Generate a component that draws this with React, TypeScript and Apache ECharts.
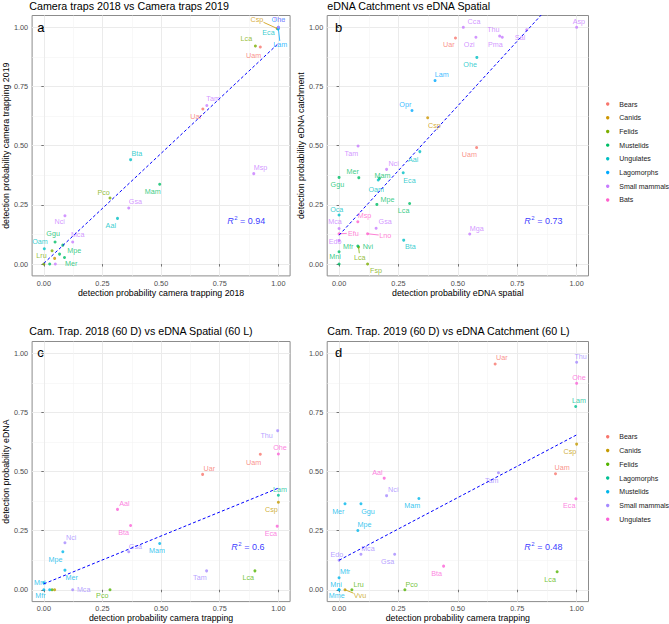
import React, { useEffect, useRef } from "react";
import * as echarts from "echarts";

type Pt = [string, string, number, number];

const FONT = "'Liberation Sans', Arial, Helvetica, sans-serif";

// ---------- categories & palettes ----------
const GROUPS_AB = ["Bears", "Canids", "Felids", "Mustelids", "Ungulates", "Lagomorphs", "Small mammals", "Bats"];
const COLORS_AB = ["#F8766D", "#CD9600", "#7CAE00", "#00BE67", "#00BFC4", "#00A9FF", "#C77CFF", "#FF61CC"];
const GROUPS_CD = ["Bears", "Canids", "Felids", "Lagomorphs", "Mustelids", "Small mammals", "Ungulates"];
const COLORS_CD = ["#F8766D", "#C49A00", "#53B400", "#00C094", "#00B6EB", "#A58AFF", "#FB61D7"];

// ---------- tick labels ----------
const TICKS = [0, 0.25, 0.5, 0.75, 1];
const MINOR_TICKS = [0.125, 0.375, 0.625, 0.875];

// ---------- texts ----------
const TITLES = [
  "Camera traps 2018 vs Camera traps 2019",
  "eDNA Catchment vs eDNA Spatial",
  "Cam. Trap. 2018 (60 D) vs eDNA Spatial (60 L)",
  "Cam. Trap. 2019 (60 D) vs eDNA Catchment (60 L)",
];
const X_NAMES = [
  "detection probability camera trapping 2018",
  "detection probability eDNA spatial",
  "detection probability camera trapping",
  "detection probability camera trapping",
];
const Y_NAMES = [
  "detection probability camera trapping 2019",
  "detection probability eDNA catchment",
  "detection probability eDNA",
  "",
];
const LETTERS = ["a", "b", "c", "d"];
const R2_VALUES = ["0.94", "0.73", "0.6", "0.48"];

// ---------- data: [species, group, x, y] ----------
const POINTS_A: Pt[] = [
  ["Ohe", "Lagomorphs", 1.0, 1.0],
  ["Thu", "Small mammals", 1.0, 1.0],
  ["Csp", "Canids", 0.995, 0.995],
  ["Eca", "Ungulates", 0.998, 0.993],
  ["Lam", "Lagomorphs", 1.0, 0.995],
  ["Lca", "Felids", 0.902, 0.921],
  ["Uam", "Bears", 0.923, 0.917],
  ["Tam", "Small mammals", 0.695, 0.67],
  ["Uar", "Bears", 0.678, 0.655],
  ["Bta", "Ungulates", 0.37, 0.441],
  ["Msp", "Small mammals", 0.895, 0.382],
  ["Mam", "Mustelids", 0.494, 0.337],
  ["Pco", "Felids", 0.282, 0.279],
  ["Gsa", "Small mammals", 0.362, 0.237],
  ["Aal", "Ungulates", 0.314, 0.193],
  ["Nci", "Small mammals", 0.09, 0.204],
  ["Ggu", "Mustelids", 0.048, 0.093],
  ["Oam", "Ungulates", 0.002, 0.065],
  ["Mca", "Small mammals", 0.123, 0.093],
  ["Mpe", "Mustelids", 0.081, 0.08],
  ["Lru", "Felids", 0.0, 0.0],
  ["Mer", "Mustelids", 0.088, 0.028],
  ["", "Felids", 0.035, 0.056],
  ["", "Canids", 0.046, 0.024],
  ["", "Small mammals", 0.049, 0.0],
  ["", "Mustelids", 0.025, 0.0],
  ["", "Mustelids", 0.067, 0.042],
];
const FIT_A = [[0, 0.003], [1, 0.932]];

const POINTS_B: Pt[] = [
  ["Cca", "Small mammals", 0.523, 1.0],
  ["Uar", "Bears", 0.49, 0.955],
  ["Ozi", "Small mammals", 0.576, 0.958],
  ["Thu", "Small mammals", 0.676, 0.963],
  ["Pma", "Small mammals", 0.687, 0.958],
  ["Sal", "Small mammals", 0.79, 0.99],
  ["Asp", "Small mammals", 1.0, 1.0],
  ["Ohe", "Ungulates", 0.58, 0.873],
  ["Lam", "Lagomorphs", 0.404, 0.775],
  ["Opr", "Lagomorphs", 0.307, 0.649],
  ["Csp", "Canids", 0.373, 0.618],
  ["Tam", "Small mammals", 0.08, 0.499],
  ["Uam", "Bears", 0.579, 0.492],
  ["Aal", "Ungulates", 0.34, 0.475],
  ["Nci", "Small mammals", 0.2, 0.4],
  ["Mer", "Mustelids", 0.083, 0.365],
  ["Ggu", "Mustelids", 0.0, 0.366],
  ["Mam", "Mustelids", 0.17, 0.362],
  ["Oam", "Ungulates", 0.165, 0.355],
  ["Eca", "Ungulates", 0.27, 0.386],
  ["Mpe", "Mustelids", 0.159, 0.252],
  ["Lca", "Mustelids", 0.297, 0.256],
  ["Oca", "Ungulates", 0.0, 0.207],
  ["Msp", "Bats", 0.079, 0.179],
  ["Gsa", "Small mammals", 0.156, 0.151],
  ["Mca", "Small mammals", 0.0, 0.15],
  ["Efu", "Bats", 0.0, 0.128],
  ["Lno", "Bats", 0.12, 0.128],
  ["Edo", "Small mammals", 0.0, 0.1],
  ["Mga", "Small mammals", 0.55, 0.127],
  ["Bta", "Ungulates", 0.272, 0.101],
  ["Nvi", "Mustelids", 0.079, 0.076],
  ["Lca", "Felids", 0.082, 0.072],
  ["Mfr", "Mustelids", 0.0, 0.052],
  ["Mni", "Mustelids", 0.0, 0.0],
  ["Fsp", "Felids", 0.12, 0.0],
];
const FIT_B = [[0, 0.122], [1, 1.215]];

const POINTS_C: Pt[] = [
  ["Thu", "Small mammals", 0.997, 0.673],
  ["Ohe", "Ungulates", 1.0, 0.574],
  ["Uam", "Bears", 0.923, 0.573],
  ["Uar", "Bears", 0.677, 0.488],
  ["Lam", "Lagomorphs", 1.0, 0.4],
  ["Csp", "Canids", 1.0, 0.37],
  ["Eca", "Ungulates", 0.995, 0.269],
  ["Aal", "Ungulates", 0.314, 0.34],
  ["Bta", "Ungulates", 0.37, 0.272],
  ["Gsa", "Small mammals", 0.362, 0.161],
  ["Mam", "Mustelids", 0.494, 0.196],
  ["Tam", "Small mammals", 0.694, 0.08],
  ["Lca", "Felids", 0.9, 0.08],
  ["Nci", "Small mammals", 0.09, 0.199],
  ["Mpe", "Mustelids", 0.081, 0.161],
  ["Mer", "Mustelids", 0.09, 0.083],
  ["Mni", "Mustelids", 0.0, 0.03],
  ["Mfr", "Mustelids", 0.0, 0.0],
  ["", "Mustelids", 0.025, 0.0],
  ["", "Felids", 0.035, 0.0],
  ["", "Canids", 0.046, 0.0],
  ["Mca", "Small mammals", 0.123, 0.0],
  ["Pco", "Felids", 0.282, 0.0],
];
const FIT_C = [[0, 0.025], [1, 0.43]];

const POINTS_D: Pt[] = [
  ["Uar", "Bears", 0.657, 0.955],
  ["Thu", "Small mammals", 1.0, 0.962],
  ["Ohe", "Ungulates", 1.0, 0.873],
  ["Lam", "Lagomorphs", 0.996, 0.775],
  ["Csp", "Canids", 1.0, 0.616],
  ["Uam", "Bears", 0.911, 0.491],
  ["Tam", "Small mammals", 0.671, 0.495],
  ["Eca", "Ungulates", 0.997, 0.385],
  ["Aal", "Ungulates", 0.19, 0.472],
  ["Nci", "Small mammals", 0.2, 0.398],
  ["Mam", "Mustelids", 0.336, 0.386],
  ["Mer", "Mustelids", 0.025, 0.364],
  ["Ggu", "Mustelids", 0.092, 0.364],
  ["Mpe", "Mustelids", 0.079, 0.251],
  ["Edo", "Small mammals", 0.0, 0.125],
  ["Mca", "Small mammals", 0.092, 0.15],
  ["Gsa", "Small mammals", 0.234, 0.15],
  ["Bta", "Ungulates", 0.44, 0.1],
  ["Lca", "Felids", 0.918, 0.076],
  ["Mfr", "Mustelids", 0.0, 0.051],
  ["Mni", "Mustelids", 0.0, 0.0],
  ["Mme", "Mustelids", 0.0, 0.0],
  ["Lru", "Felids", 0.054, 0.0],
  ["Vvu", "Canids", 0.025, 0.0],
  ["Pco", "Felids", 0.277, 0.0],
];
const FIT_D = [[0, 0.125], [1, 0.655]];

// ---------- layout (pixels) ----------
const GRIDS = [
  { left: 28.8, top: 15.5, width: 261.3, height: 260.4 },
  { left: 327.2, top: 15.5, width: 261.3, height: 260.4 },
  { left: 28.8, top: 341.5, width: 261.3, height: 260.1 },
  { left: 327.2, top: 341.5, width: 261.3, height: 260.1 },
];
const TITLE_POS = [[29.3, 5.6], [327.3, 5.6], [29.3, 331.2], [327.3, 331.2]];
const LETTER_POS = [[37.3, 27.2], [335, 27.2], [37.3, 352.3], [335, 352.8]];
const R2_POS = [[0.863, 0.183], [0.86, 0.183], [0.87, 0.182], [0.86, 0.182]];
const LEGEND_POS = [
  { x: 607.7, y: 104, step: 13.71 },
  { x: 607.7, y: 436.8, step: 13.75 },
];

// label offsets (px) relative to the point, keyed by "name" or "name/group"
const OFFS_A: Record<string, number[]> = {
  Ohe: [0, -8], Thu: [0.6, -8.2], Csp: [-20.3, -9.2], Eca: [-9.4, 3.8], Lam: [1.8, 16.2],
  Lca: [-9, -7.3], Uam: [-6.7, 9], Tam: [6.3, -6.7], Uar: [-6.7, 7], Bta: [6.3, -5.7],
  Msp: [6.7, -6], Mam: [-7, 7.7], Pco: [-6.3, -6], Gsa: [6.7, -6], Aal: [-6.7, 7.3],
  Nci: [-5.3, 6], Ggu: [-2, -9], Oam: [-4.3, -7], Mca: [5, -7.3], Mpe: [11.3, 5.7],
  Lru: [-2.4, -9], Mer: [6.7, 6],
};
const OFFS_B: Record<string, number[]> = {
  Cca: [10.7, -6], Uar: [-6.7, 6.7], Ozi: [-6.7, 7], Thu: [-6.3, -6.7], Pma: [-7, 7],
  Sal: [-6.7, 7.3], Asp: [2.3, -6], Ohe: [-6.7, 6.7], Lam: [6.7, -5.7], Opr: [-6.7, -6],
  Csp: [6.7, 7.3], Tam: [-6.7, 8], Uam: [-7.3, 7.3], Aal: [-6.7, 7.7], Nci: [7, -6],
  Mer: [-6, -6], Ggu: [-1.7, 7.3], Mam: [3, -3], Oam: [-2, 9.5], Eca: [6.3, 7.7],
  Mpe: [10.7, -4.7], "Lca/Mustelids": [-6, 7.3], Oca: [-2.3, -6], Msp: [6.7, -5.7],
  Gsa: [9, -6.7], Mca: [-4, -6.8], Efu: [14.3, -0.7], Lno: [17.7, 2], Edo: [-4, 0.7],
  Mga: [7, -5.7], Bta: [6.7, 6.7], Nvi: [10, 0], "Lca/Felids": [1.2, 10], Mfr: [9.2, -5.7],
  Mni: [-4, -7.3], Fsp: [8.4, 6],
};
const OFFS_C: Record<string, number[]> = {
  Thu: [-11, 5.3], Ohe: [1.7, -6.3], Uam: [-6.7, 8], Uar: [6.7, -6], Lam: [1.7, -5.7],
  Csp: [-7, 7.7], Eca: [-6.3, 7.3], Aal: [7, -6], Bta: [-7, 7], Gsa: [6.7, -5.7],
  Mam: [-2.7, 7.3], Tam: [-6.7, 7], Lca: [-6.7, 7], Nci: [6.3, -5.3], Mpe: [-7.3, 7.7],
  Mer: [6.7, 7.3], Mni: [-4, 0], Mfr: [-3.3, 5.3], Mca: [11, 0], Pco: [-7.7, 5.3],
};
const OFFS_D: Record<string, number[]> = {
  Uar: [6.7, -6.3], Thu: [4, -6.3], Ohe: [2.3, -6], Lam: [3.3, -5.7], Csp: [-6.7, 7],
  Uam: [6.7, -6.3], Tam: [-6.7, 7.3], Eca: [-6.7, 7], Aal: [-6.7, -6], Nci: [6.7, -6.3],
  Mam: [-6.7, 7], Mer: [-6.7, 7.3], Ggu: [7, 7.3], Mpe: [6.7, -6], Edo: [-2.3, -6],
  Mca: [7, -6], Gsa: [-7, 7.3], Bta: [-7, 7.7], Lca: [-7, 7.3], Mfr: [6, -6],
  Mni: [-3, -5.3], Mme: [-2.3, 5.3], Lru: [6.7, -5.7], Vvu: [15, 6], Pco: [6.7, -5.7],
};
const CONNECT = [["Csp", "Lam"], ["Efu", "Lno", "Lca/Felids"], [], ["Vvu"]];

const PANELS = [
  { points: POINTS_A, fit: FIT_A, offs: OFFS_A, groups: GROUPS_AB, colors: COLORS_AB },
  { points: POINTS_B, fit: FIT_B, offs: OFFS_B, groups: GROUPS_AB, colors: COLORS_AB },
  { points: POINTS_C, fit: FIT_C, offs: OFFS_C, groups: GROUPS_CD, colors: COLORS_CD },
  { points: POINTS_D, fit: FIT_D, offs: OFFS_D, groups: GROUPS_CD, colors: COLORS_CD },
];

const offFor = (offs: Record<string, number[]>, p: Pt) =>
  offs[`${p[0]}/${p[1]}`] || offs[p[0]] || [0, 0];

function buildOption() {
  const grid: any[] = [];
  const xAxis: any[] = [];
  const yAxis: any[] = [];
  const series: any[] = [];
  const graphic: any[] = [];

  GRIDS.forEach((g, i) => {
    grid.push({
      ...g,
      show: true,
      backgroundColor: "#ffffff",
      borderColor: "#8c8c8c",
      borderWidth: 1,
    });
    const common = {
      type: "value",
      gridIndex: i,
      min: -0.05,
      max: 1.05,
      axisLine: { show: false },
    };
    xAxis.push({
      ...common,
      position: "bottom",
      name: X_NAMES[i],
      nameLocation: "middle",
      nameGap: 12.3,
      nameTextStyle: { fontSize: 8.8, color: "#000", fontFamily: FONT },
      axisTick: { show: true, length: 2.5, customValues: TICKS, lineStyle: { color: "#555", width: 0.8 } },
      axisLabel: {
        customValues: TICKS,
        formatter: (v: number) => v.toFixed(2),
        fontSize: 7.3,
        color: "#4D4D4D",
        fontFamily: FONT,
        margin: 3.8,
      },
      splitLine: { show: true, lineStyle: { color: "#EBEBEB", width: 1 } },
    });
    yAxis.push({
      ...common,
      position: "left",
      name: Y_NAMES[i],
      nameLocation: "middle",
      nameGap: 18.5,
      nameTextStyle: { fontSize: 8.8, color: "#000", fontFamily: FONT },
      axisTick: { show: true, length: 2.5, customValues: TICKS, lineStyle: { color: "#555", width: 0.8 } },
      axisLabel: {
        customValues: TICKS,
        formatter: (v: number) => v.toFixed(2),
        fontSize: 7.3,
        color: "#4D4D4D",
        fontFamily: FONT,
        margin: 4,
      },
      splitLine: { show: true, lineStyle: { color: "#EBEBEB", width: 1 } },
    });
  });
  // minor grid lines via secondary axes
  GRIDS.forEach((_g, i) => {
    const minor = {
      type: "value",
      gridIndex: i,
      min: -0.05,
      max: 1.05,
      axisLine: { show: false },
      axisTick: { show: false, customValues: MINOR_TICKS },
      axisLabel: { show: false, customValues: MINOR_TICKS },
      splitLine: { show: true, lineStyle: { color: "#F3F3F3", width: 0.6 } },
    };
    xAxis.push({ ...minor, position: "top" });
    yAxis.push({ ...minor, position: "right" });
  });

  PANELS.forEach((pn, i) => {
    pn.groups.forEach((grp, gi) => {
      const pts = pn.points.filter((p) => p[1] === grp);
      if (!pts.length) return;
      const color = pn.colors[gi];
      series.push({
        type: "scatter",
        name: grp,
        xAxisIndex: i,
        yAxisIndex: i,
        symbol: "circle",
        symbolSize: 3,
        itemStyle: { color },
        silent: true,
        z: 3,
        label: {
          show: true,
          position: "inside",
          formatter: "{b}",
          color,
          fontSize: 7.2,
          fontFamily: FONT,
        },
        emphasis: { disabled: true },
        data: pts.map((p) => ({
          name: p[0],
          value: [p[2], p[3]],
          label: { offset: offFor(pn.offs, p) },
        })),
      });
    });
    series.push({
      type: "line",
      name: "fit" + i,
      xAxisIndex: i,
      yAxisIndex: i,
      data: pn.fit,
      symbol: "none",
      clip: true,
      silent: true,
      z: 4,
      lineStyle: { color: "#0000FF", width: 1, type: [3, 2.2] },
    });
    series.push({
      type: "scatter",
      name: "r2_" + i,
      xAxisIndex: i,
      yAxisIndex: i,
      symbolSize: 0,
      silent: true,
      z: 5,
      data: [R2_POS[i]],
      label: {
        show: true,
        position: "inside",
        formatter: `{r|R}{s|2}{t| = ${R2_VALUES[i]}}`,
        rich: {
          r: { fontStyle: "italic", fontSize: 9, color: "#0000FF", fontFamily: FONT, lineHeight: 11 },
          s: { fontSize: 6, color: "#0000FF", fontFamily: FONT, verticalAlign: "top", lineHeight: 11, padding: [0, 0, 0, 0.5] },
          t: { fontSize: 9, color: "#0000FF", fontFamily: FONT, lineHeight: 11 },
        },
      },
    });

    graphic.push({
      type: "text",
      x: TITLE_POS[i][0],
      y: TITLE_POS[i][1],
      silent: true,
      style: {
        text: TITLES[i],
        fill: "#000",
        fontSize: 10.7,
        fontFamily: FONT,
        textAlign: "left",
        textVerticalAlign: "middle",
        align: "left",
        verticalAlign: "middle",
      },
    });
    graphic.push({
      type: "text",
      x: LETTER_POS[i][0],
      y: LETTER_POS[i][1],
      silent: true,
      z: 10,
      style: {
        text: LETTERS[i],
        fill: "#000",
        fontSize: 13,
        fontFamily: FONT,
        textAlign: "left",
        textVerticalAlign: "middle",
        align: "left",
        verticalAlign: "middle",
      },
    });
  });

  // legends
  const legendSets = [
    { groups: GROUPS_AB, colors: COLORS_AB },
    { groups: GROUPS_CD, colors: COLORS_CD },
  ];
  legendSets.forEach((ls, li) => {
    const pos = LEGEND_POS[li];
    ls.groups.forEach((grp, gi) => {
      const y = pos.y + gi * pos.step;
      graphic.push({
        type: "circle",
        silent: true,
        shape: { cx: pos.x, cy: y, r: 1.7 },
        style: { fill: ls.colors[gi] },
      });
      graphic.push({
        type: "text",
        x: pos.x + 11.6,
        y,
        silent: true,
        style: {
          text: grp,
          fill: "#1a1a1a",
          fontSize: 7,
          fontFamily: FONT,
          textAlign: "left",
          textVerticalAlign: "middle",
          align: "left",
          verticalAlign: "middle",
        },
      });
    });
  });

  return {
    animation: false,
    backgroundColor: "#ffffff",
    textStyle: { fontFamily: FONT },
    grid,
    xAxis,
    yAxis,
    series,
    graphic,
  };
}

export default function App() {
  const ref = useRef<HTMLDivElement>(null);
  useEffect(() => {
    if (!ref.current) return;
    const chart = echarts.init(ref.current, undefined, { renderer: "svg" });
    const option: any = buildOption();
    chart.setOption(option);

    // ggrepel-like connector segments
    const connectors: any[] = [];
    PANELS.forEach((pn, i) => {
      pn.points.forEach((p) => {
        const key1 = `${p[0]}/${p[1]}`;
        if (!(CONNECT[i].includes(p[0]) || CONNECT[i].includes(key1))) return;
        const px = chart.convertToPixel({ xAxisIndex: i, yAxisIndex: i } as any, [p[2], p[3]]) as number[];
        const o = offFor(pn.offs, p);
        const halfW = p[0].length * 2.2;
        const halfH = 3.8;
        const tx = o[0] !== 0 ? halfW / Math.abs(o[0]) : Infinity;
        const ty = o[1] !== 0 ? halfH / Math.abs(o[1]) : Infinity;
        const t = Math.min(tx, ty);
        if (t >= 1) return;
        const color = pn.colors[pn.groups.indexOf(p[1])];
        connectors.push({
          type: "line",
          silent: true,
          z: 2,
          shape: {
            x1: px[0],
            y1: px[1],
            x2: px[0] + o[0] * (1 - t),
            y2: px[1] + o[1] * (1 - t),
          },
          style: { stroke: color, lineWidth: 0.8 },
        });
      });
    });
    chart.setOption({ graphic: [...option.graphic, ...connectors] });

    return () => chart.dispose();
  }, []);
  return (
    <div
      ref={ref}
      style={{ position: "fixed", left: 0, top: 0, width: 669, height: 624, background: "#fff" }}
    />
  );
}
